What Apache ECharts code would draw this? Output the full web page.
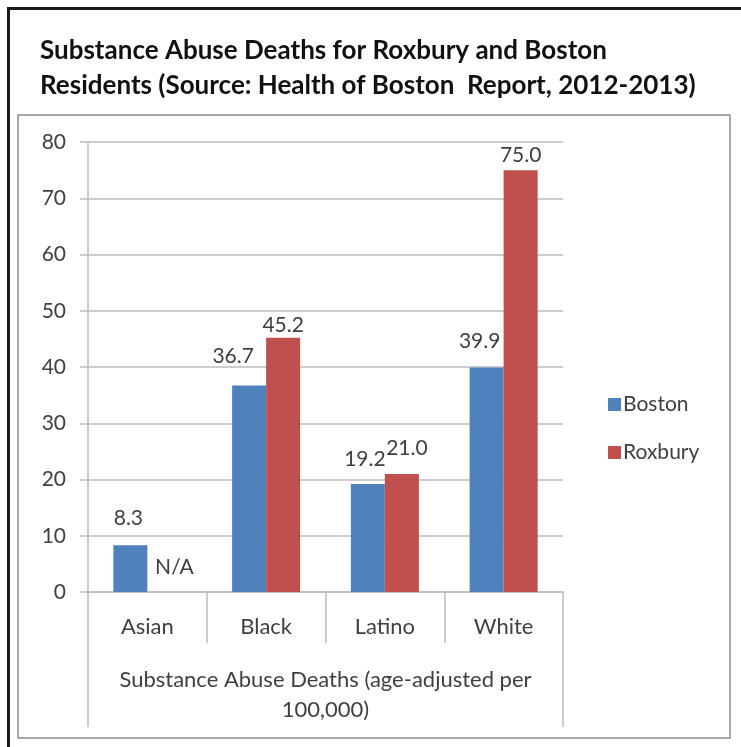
<!DOCTYPE html>
<html>
<head>
<meta charset="utf-8">
<script src="https://cdn.jsdelivr.net/npm/echarts@6/dist/echarts.min.js"></script>
<style>
html,body{margin:0;padding:0;background:#fff;}
#chart{width:741px;height:747px;}
</style>
</head>
<body>
<div id="chart"></div>
<script>
const titleText = 'Substance Abuse Deaths for Roxbury and Boston\nResidents (Source: Health of Boston  Report, 2012-2013)';
const categories = ['Asian', 'Black', 'Latino', 'White'];
const axisGroupLabel = ['Substance Abuse Deaths (age-adjusted per\n100,000)'];
const seriesNames = ['Boston', 'Roxbury'];
const bostonValues = [8.3, 36.7, 19.2, 39.9];
const roxburyValues = [0, 45.2, 21.0, 75.0];
const roxburyLabels = ['N/A', '45.2', '21.0', '75.0'];
const yTicks = [0, 10, 20, 30, 40, 50, 60, 70, 80];

const FONT = 'Lato';
const TXT = '#404040';
const GRID = '#bcbcbc';

// per-point label offsets (as placed in the original)
const bostonOffsets = [[-2, -12], [-16, -14], [-3, -9], [-7, -11]];
const roxburyOffsets = [[10, -9], [0, 3], [5, -10], [0, 1]];

const chart = echarts.init(document.getElementById('chart'));

const labelBase = {
  show: true, position: 'top', distance: 5,
  fontFamily: FONT, fontSize: 21, color: TXT
};

const option = {
  animation: false,
  backgroundColor: '#fff',
  textStyle: { fontFamily: FONT },
  title: {
    text: titleText,
    left: 35, top: 28,
    textStyle: { fontFamily: FONT, fontWeight: 'bold', fontSize: 26, lineHeight: 35, color: '#111' }
  },
  graphic: [
    { type: 'rect', shape: { x: 18, y: 115, width: 712, height: 623 }, style: { fill: 'none', stroke: '#8c8c8c', lineWidth: 1.5 }, z: -1 },
    { type: 'line', shape: { x1: 8.5, y1: 7, x2: 8.5, y2: 747 }, style: { stroke: '#1a1a1a', lineWidth: 3 } },
    { type: 'line', shape: { x1: 7, y1: 8.5, x2: 741, y2: 8.5 }, style: { stroke: '#1a1a1a', lineWidth: 3 } }
  ],
  legend: {
    data: seriesNames,
    orient: 'vertical',
    left: 603, top: 389,
    itemWidth: 13, itemHeight: 13, itemGap: 27,
    icon: 'rect',
    textStyle: { fontFamily: FONT, fontSize: 21, color: TXT, lineHeight: 20, padding: [0, 0, 0, -3] }
  },
  grid: { left: 88, right: 178, top: 142, bottom: 155, containLabel: false },
  xAxis: [
    {
      type: 'category',
      data: categories,
      position: 'bottom',
      axisLine: { show: true, lineStyle: { color: GRID, width: 1.5 } },
      axisTick: { show: true, length: 51, lineStyle: { color: GRID, width: 1.5 } },
      axisLabel: { fontFamily: FONT, fontSize: 22, color: TXT, margin: 25, lineHeight: 20 }
    },
    {
      type: 'category',
      data: axisGroupLabel,
      position: 'bottom',
      axisLine: { show: false },
      axisTick: { show: true, length: 135, lineStyle: { color: GRID, width: 1.5 } },
      axisLabel: { fontFamily: FONT, fontSize: 22, color: TXT, margin: 73, lineHeight: 30, align: 'center' }
    }
  ],
  yAxis: {
    type: 'value',
    min: yTicks[0], max: yTicks[yTicks.length - 1], interval: 10,
    axisLine: { show: true, lineStyle: { color: GRID, width: 1.5 } },
    axisTick: { show: true, length: 8, lineStyle: { color: GRID, width: 1.5 } },
    splitLine: { show: true, lineStyle: { color: GRID, width: 1.5 } },
    axisLabel: { fontFamily: FONT, fontSize: 21, color: TXT, margin: 22 }
  },
  series: [
    {
      name: seriesNames[0], type: 'bar', xAxisIndex: 0,
      barWidth: 34, barGap: '0%',
      itemStyle: { color: '#4F81BD' },
      data: bostonValues.map((v, i) => ({
        value: v,
        label: Object.assign({}, labelBase, { offset: bostonOffsets[i], formatter: v.toFixed(1) })
      }))
    },
    {
      name: seriesNames[1], type: 'bar', xAxisIndex: 0,
      barWidth: 34, barGap: '0%',
      itemStyle: { color: '#C0504D' },
      data: roxburyValues.map((v, i) => ({
        value: v,
        label: Object.assign({}, labelBase, { offset: roxburyOffsets[i], formatter: roxburyLabels[i] })
      }))
    }
  ]
};
chart.setOption(option);
</script>
</body>
</html>
